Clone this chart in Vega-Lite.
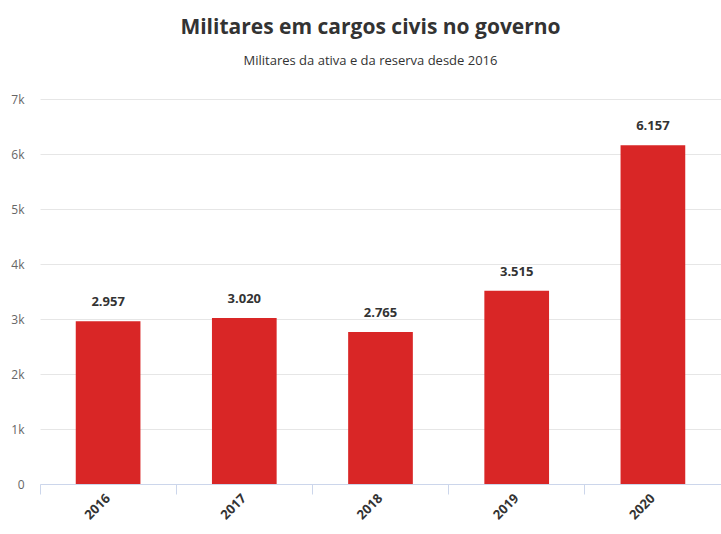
{
  "$schema": "https://vega.github.io/schema/vega-lite/v6.json",
  "autosize": {"type": "none"},
  "width": 681,
  "height": 385,
  "padding": {"left": 40, "top": 99, "right": 0, "bottom": 50},
  "background": "white",
  "config": {
    "locale": {"number": {"decimal": ",", "thousands": ".", "grouping": [3], "currency": ["R$", ""]}},
    "font": "Open Sans",
    "view": {"stroke": null}
  },
  "title": {
    "text": "Militares em cargos civis no governo",
    "subtitle": "Militares da ativa e da reserva desde 2016",
    "anchor": "middle",
    "dx": -10,
    "offset": 25,
    "font": "Open Sans",
    "fontSize": 21,
    "fontWeight": "bold",
    "color": "#333333",
    "subtitleFont": "Open Sans",
    "subtitleFontSize": 13,
    "subtitleColor": "#333333",
    "subtitlePadding": 17
  },
  "data": {
    "values": [
      {"ano": "2016", "militares": 2957},
      {"ano": "2017", "militares": 3020},
      {"ano": "2018", "militares": 2765},
      {"ano": "2019", "militares": 3515},
      {"ano": "2020", "militares": 6157}
    ]
  },
  "encoding": {
    "x": {
      "field": "ano",
      "type": "nominal",
      "scale": {"paddingInner": 0, "paddingOuter": 0},
      "axis": {
        "title": null,
        "labelAngle": -45,
        "labelAlign": "right",
        "labelBaseline": "middle",
        "labelFont": "Open Sans",
        "labelFontSize": 13,
        "labelFontWeight": "bold",
        "labelColor": "#333333",
        "labelPadding": 2,
        "bandPosition": 0,
        "domainColor": "#ccd6eb",
        "tickColor": "#ccd6eb",
        "tickSize": 10,
        "grid": false
      }
    },
    "y": {
      "field": "militares",
      "type": "quantitative",
      "scale": {"domain": [0, 7000], "nice": false},
      "axis": {
        "title": null,
        "values": [0, 1000, 2000, 3000, 4000, 5000, 6000, 7000],
        "labelExpr": "datum.value == 0 ? '0' : (datum.value / 1000) + 'k'",
        "domain": false,
        "ticks": false,
        "labelPadding": 16,
        "labelFont": "Open Sans",
        "labelFontSize": 12,
        "labelColor": "#666666",
        "gridColor": "#e6e6e6"
      }
    }
  },
  "layer": [
    {
      "mark": {"type": "bar", "color": "#d92626", "width": {"band": 0.475}}
    },
    {
      "mark": {"type": "text", "dy": -12, "baseline": "bottom", "font": "Open Sans", "fontSize": 13, "fontWeight": "bold", "color": "#333333"},
      "encoding": {"text": {"field": "militares", "type": "quantitative", "format": ","}}
    }
  ]
}
